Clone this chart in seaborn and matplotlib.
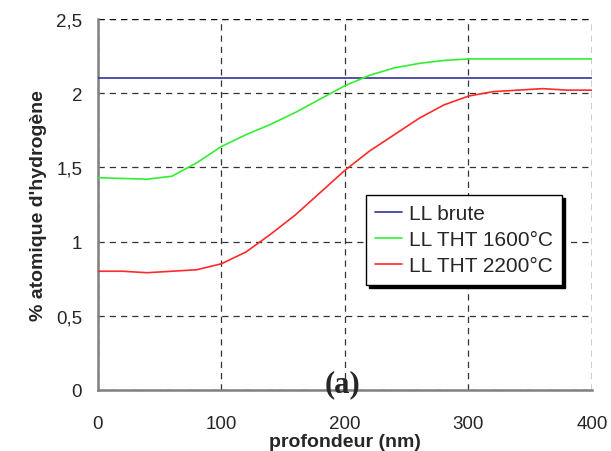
"""
Profil d'hydrogène en fonction de la profondeur (a).
"""

import pandas as pd
import seaborn as sns
import matplotlib
matplotlib.use("Agg")
import matplotlib.pyplot as plt

sns.set_style("white")
plt.rcParams['font.family'] = ['Liberation Sans', 'DejaVu Sans']

###
#Data

DEPTH = [0, 20, 40, 60, 80, 100, 120, 140, 160, 180, 200,
         220, 240, 260, 280, 300, 320, 340, 360, 380, 400]

BRUTE = [2.1] * len(DEPTH)

THT_1600 = [1.43, 1.425, 1.42, 1.44, 1.53, 1.64, 1.72, 1.79, 1.87, 1.96, 2.05,
            2.12, 2.17, 2.20, 2.22, 2.23, 2.23, 2.23, 2.23, 2.23, 2.23]

THT_2200 = [0.80, 0.80, 0.79, 0.80, 0.81, 0.85, 0.93, 1.05, 1.18, 1.33, 1.48,
            1.61, 1.72, 1.83, 1.92, 1.98, 2.01, 2.02, 2.03, 2.02, 2.02]

SERIES = ["LL brute", "LL THT 1600°C", "LL THT 2200°C"]
COLORS = ["#333399", "#33ee33", "#ff2a2a"]

X_TICKS = [0, 100, 200, 300, 400]
Y_TICKS = [0, 0.5, 1, 1.5, 2, 2.5]
Y_TICK_LABELS = ["0", "0,5", "1", "1,5", "2", "2,5"]

###
#Long table for seaborn
df = pd.concat([
    pd.DataFrame({"profondeur": DEPTH, "H": vals, "serie": name})
    for name, vals in zip(SERIES, [BRUTE, THT_1600, THT_2200])
])

fig = plt.figure(figsize=(6.11, 4.52), dpi=100)
ax = fig.add_axes([0.160, 0.135, 0.809, 0.821])

sns.lineplot(data=df, x="profondeur", y="H", hue="serie", hue_order=SERIES,
             palette=COLORS, linewidth=1.2, ax=ax, legend=False, zorder=3)

ax.set_xlim(0, 400)
ax.set_ylim(0, 2.5)
ax.set_xticks(X_TICKS)
ax.set_yticks(Y_TICKS)
ax.set_yticklabels(Y_TICK_LABELS)
ax.tick_params(axis='both', direction='inout', length=9.5, width=1,
               color='black', labelsize=13.5)
ax.tick_params(axis='x', pad=13.5)
ax.tick_params(axis='y', pad=6.5)

#Dashed grid, also used for top and right border
dash = dict(color='black', linestyle=(0, (5, 4)), linewidth=0.9, alpha=0.8)
ax.grid(True, **dash)
for side in ['top', 'right']:
    ax.spines[side].set_visible(False)
ax.axhline(2.5, **dash)
ax.axvline(400, **dash)
for side in ['left', 'bottom']:
    ax.spines[side].set_color('#808080')
    ax.spines[side].set_linewidth(1.8)

ax.set_xlabel("profondeur (nm)", fontsize=14, fontweight='bold', va='top')
ax.xaxis.set_label_coords(0.5, -0.117)
ax.set_ylabel("% atomique d'hydrogène", fontsize=14, fontweight='bold',
              va='center')
ax.yaxis.set_label_coords(-0.12, 0.5)

#Legend with a solid shadow
handles = [plt.Line2D([], [], color=c, linewidth=1.2) for c in COLORS]
leg = ax.legend(handles, SERIES, loc='upper left',
                bbox_to_anchor=(0.5425, 0.5256), borderaxespad=0,
                fontsize=15, frameon=True, fancybox=False,
                edgecolor='black', framealpha=1, handlelength=1.3,
                handletextpad=0.3, borderpad=0.45, labelspacing=0.34,
                shadow={'color': 'black', 'alpha': 1})
leg.get_frame().set_linewidth(1.0)

ax.text(198, 0.045, "(a)", fontsize=22, fontweight='bold',
        family=['Liberation Serif', 'DejaVu Serif'],
        ha='center', va='center', zorder=5)

fig.savefig("out.png", dpi=100)
